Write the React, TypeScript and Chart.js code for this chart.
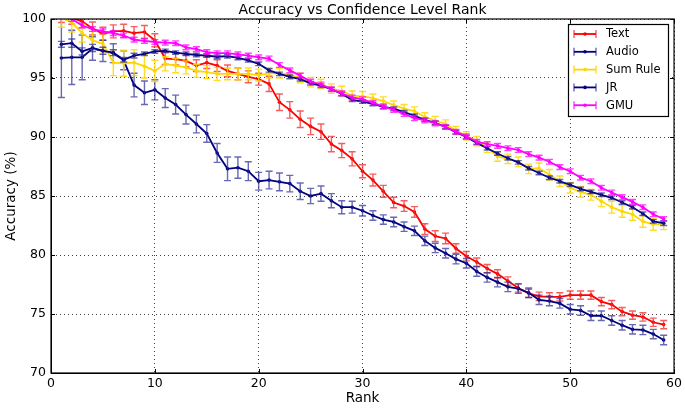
import React, { useEffect, useRef } from "react";
import { Chart, registerables } from "chart.js";

Chart.register(...registerables);

const TITLE = "Accuracy vs Confidence Level Rank";
const X_LABEL = "Rank";
const Y_LABEL = "Accuracy (%)";

const RANKS = [
  1, 2, 3, 4, 5, 6, 7, 8, 9, 10, 11, 12, 13, 14, 15, 16, 17, 18, 19, 20,
  21, 22, 23, 24, 25, 26, 27, 28, 29, 30, 31, 32, 33, 34, 35, 36, 37, 38, 39, 40,
  41, 42, 43, 44, 45, 46, 47, 48, 49, 50, 51, 52, 53, 54, 55, 56, 57, 58, 59,
];

const TEXT = [
  100.3, 100.1, 99.8, 99.2, 98.75, 98.95, 99.0, 98.8, 98.9, 98.2,
  96.65, 96.6, 96.45, 96.05, 96.3, 96.05, 95.6, 95.35, 95.1, 94.9,
  94.5, 92.95, 92.3, 91.5, 90.9, 90.45, 89.4, 88.85, 88.15, 87.1,
  86.35, 85.4, 84.45, 84.15, 83.65, 82.2, 81.6, 81.4, 80.55, 79.9,
  79.4, 78.85, 78.4, 77.8, 77.2, 76.75, 76.5, 76.45, 76.45, 76.6,
  76.6, 76.6, 76.05, 75.8, 75.2, 74.9, 74.75, 74.3, 74.1,
];
const TEXT_ERR = [
  0.6, 0.55, 0.55, 0.55, 0.55, 0.55, 0.55, 0.55, 0.55, 0.55,
  0.5, 0.5, 0.5, 0.5, 0.5, 0.5, 0.5, 0.5, 0.5, 0.5,
  0.65, 0.7, 0.7, 0.7, 0.7, 0.65, 0.65, 0.6, 0.6, 0.55,
  0.5, 0.5, 0.45, 0.45, 0.45, 0.45, 0.45, 0.45, 0.4, 0.4,
  0.35, 0.35, 0.35, 0.35, 0.35, 0.35, 0.35, 0.35, 0.35, 0.35,
  0.35, 0.35, 0.35, 0.35, 0.35, 0.35, 0.35, 0.35, 0.35,
];

const AUDIO = [
  96.7, 96.75, 96.75, 97.5, 97.3, 97.1, 96.5, 94.4, 93.75, 94.0,
  93.3, 92.75, 91.9, 91.1, 90.3, 88.65, 87.3, 87.4, 87.1, 86.25,
  86.35, 86.2, 86.05, 85.4, 85.0, 85.2, 84.6, 84.05, 84.05, 83.75,
  83.35, 83.0, 82.8, 82.4, 82.05, 81.2, 80.6, 80.15, 79.65, 79.3,
  78.6, 78.1, 77.7, 77.3, 77.15, 76.8, 76.2, 76.1, 75.9, 75.4,
  75.3, 74.85, 74.85, 74.45, 74.05, 73.7, 73.65, 73.3, 72.8,
];
const AUDIO_ERR = [
  3.35, 2.3, 1.9, 1.0, 0.9, 0.8, 0.8, 1.0, 1.0, 0.85,
  0.8, 0.8, 0.8, 0.75, 0.75, 0.8, 1.0, 0.9, 0.8, 0.75,
  0.75, 0.75, 0.7, 0.7, 0.65, 0.65, 0.6, 0.55, 0.5, 0.45,
  0.4, 0.4, 0.4, 0.4, 0.4, 0.4, 0.4, 0.4, 0.4, 0.4,
  0.4, 0.4, 0.4, 0.4, 0.4, 0.4, 0.4, 0.4, 0.4, 0.4,
  0.4, 0.4, 0.4, 0.4, 0.4, 0.4, 0.4, 0.4, 0.4,
];

const SUM_RULE = [
  100.1, 99.7, 98.8, 98.2, 97.9, 96.3, 96.25, 96.3, 96.0, 95.6,
  96.2, 96.05, 95.9, 95.6, 95.5, 95.35, 95.35, 95.35, 95.35, 95.25,
  95.4, 95.4, 95.3, 95.0, 94.65, 94.5, 94.1, 93.9, 93.5, 93.45,
  93.3, 93.05, 92.7, 92.4, 92.2, 91.7, 91.4, 91.1, 90.55, 90.1,
  89.65, 89.1, 88.35, 88.15, 87.9, 87.3, 87.35, 86.8, 86.25, 85.7,
  85.35, 85.1, 84.55, 84.05, 83.7, 83.45, 82.85, 82.6, 82.65,
];
const SUM_RULE_ERR = [
  0.8, 0.8, 0.75, 0.75, 0.8, 1.1, 1.1, 1.1, 1.0, 0.9,
  0.6, 0.6, 0.55, 0.55, 0.55, 0.55, 0.5, 0.5, 0.5, 0.5,
  0.4, 0.4, 0.4, 0.4, 0.4, 0.4, 0.4, 0.4, 0.4, 0.4,
  0.35, 0.35, 0.35, 0.35, 0.35, 0.35, 0.35, 0.35, 0.35, 0.35,
  0.4, 0.4, 0.4, 0.4, 0.4, 0.4, 0.45, 0.45, 0.45, 0.45,
  0.45, 0.45, 0.45, 0.5, 0.5, 0.5, 0.5, 0.5, 0.5,
];

const JR = [
  97.85, 97.95, 97.25, 97.55, 97.3, 97.15, 96.55, 96.9, 97.05, 97.25,
  97.3, 97.15, 97.05, 96.95, 96.9, 96.8, 96.85, 96.7, 96.5, 96.2,
  95.65, 95.35, 95.1, 94.9, 94.55, 94.35, 94.05, 93.65, 93.15, 93.0,
  92.8, 92.55, 92.4, 92.1, 91.8, 91.45, 91.2, 90.85, 90.4, 90.0,
  89.5, 89.05, 88.6, 88.2, 87.85, 87.35, 86.95, 86.55, 86.25, 85.95,
  85.6, 85.35, 85.1, 84.85, 84.45, 84.05, 83.5, 82.85, 82.7,
];
const JR_ERR = [
  0.25, 0.35, 0.3, 0.3, 0.3, 0.25, 0.2, 0.2, 0.15, 0.15,
  0.15, 0.15, 0.15, 0.15, 0.15, 0.15, 0.15, 0.15, 0.15, 0.15,
  0.15, 0.15, 0.15, 0.15, 0.15, 0.15, 0.15, 0.15, 0.15, 0.15,
  0.15, 0.15, 0.15, 0.15, 0.15, 0.15, 0.15, 0.15, 0.15, 0.15,
  0.15, 0.15, 0.15, 0.15, 0.15, 0.15, 0.15, 0.15, 0.15, 0.15,
  0.15, 0.15, 0.15, 0.15, 0.15, 0.15, 0.15, 0.15, 0.2,
];

const GMU = [
  100.5, 100.0, 99.45, 99.15, 98.95, 98.8, 98.6, 98.25, 98.15, 98.05,
  98.0, 97.95, 97.6, 97.45, 97.2, 97.1, 97.1, 97.0, 96.9, 96.75,
  96.65, 96.1, 95.65, 95.2, 94.7, 94.45, 94.05, 93.7, 93.35, 93.2,
  92.9, 92.6, 92.3, 91.95, 91.6, 91.4, 91.15, 90.85, 90.45, 90.05,
  89.6, 89.4, 89.25, 89.05, 88.9, 88.55, 88.25, 87.9, 87.45, 87.1,
  86.55, 86.25, 85.7, 85.3, 84.9, 84.5, 84.05, 83.45, 83.05,
];
const GMU_ERR = [
  0.2, 0.2, 0.2, 0.2, 0.2, 0.2, 0.2, 0.2, 0.2, 0.2,
  0.2, 0.2, 0.2, 0.2, 0.2, 0.2, 0.2, 0.2, 0.2, 0.2,
  0.2, 0.2, 0.2, 0.2, 0.2, 0.2, 0.2, 0.2, 0.2, 0.2,
  0.2, 0.2, 0.2, 0.2, 0.2, 0.2, 0.2, 0.2, 0.2, 0.2,
  0.2, 0.2, 0.2, 0.2, 0.2, 0.2, 0.2, 0.2, 0.2, 0.2,
  0.2, 0.2, 0.2, 0.2, 0.2, 0.2, 0.2, 0.2, 0.2,
];

const SERIES_NAMES = ["Text", "Audio", "Sum Rule", "JR", "GMU"];
const SERIES_VALUES = [TEXT, AUDIO, SUM_RULE, JR, GMU];
const SERIES_ERRORS = [TEXT_ERR, AUDIO_ERR, SUM_RULE_ERR, JR_ERR, GMU_ERR];
const SERIES_COLORS = ["#ff0000", "#000080", "#ffd700", "#000080", "#ff00ff"];
const ERR_COLORS = ["rgba(240,40,40,0.75)", "rgba(40,40,150,0.7)", "rgba(255,215,0,0.85)", "rgba(40,40,150,0.7)", "rgba(255,0,255,0.75)"];

const FONT = "'DejaVu Sans', sans-serif";

const errorBarPlugin = {
  id: "errorBars",
  afterDatasetDraw(chart: any, args: any) {
    const i = args.index;
    const ds = chart.data.datasets[i];
    const errs: number[] = ds.errors;
    if (!errs) return;
    const { ctx, chartArea } = chart;
    const xs = chart.scales.x;
    const ys = chart.scales.y;
    ctx.save();
    ctx.beginPath();
    ctx.rect(chartArea.left, chartArea.top, chartArea.right - chartArea.left, chartArea.bottom - chartArea.top);
    ctx.clip();
    ctx.strokeStyle = ds.errColor;
    ctx.lineWidth = 1.4;
    const cap = 3.5;
    ds.data.forEach((p: any, k: number) => {
      const x = xs.getPixelForValue(p.x);
      const y1 = ys.getPixelForValue(p.y + errs[k]);
      const y2 = ys.getPixelForValue(p.y - errs[k]);
      ctx.beginPath();
      ctx.moveTo(x, y1);
      ctx.lineTo(x, y2);
      ctx.moveTo(x - cap, y1);
      ctx.lineTo(x + cap, y1);
      ctx.moveTo(x - cap, y2);
      ctx.lineTo(x + cap, y2);
      ctx.stroke();
    });
    ctx.restore();
  },
};

const framePlugin = {
  id: "frameAndLegend",
  afterDraw(chart: any) {
    const { ctx, chartArea } = chart;
    const { left, right, top, bottom } = chartArea;
    const xs = chart.scales.x;
    const ys = chart.scales.y;
    ctx.save();
    ctx.strokeStyle = "#000";
    ctx.lineWidth = 1;
    const tl = 4;
    xs.ticks.forEach((t: any) => {
      const x = Math.round(xs.getPixelForValue(t.value)) + 0.5;
      ctx.beginPath();
      ctx.moveTo(x, bottom);
      ctx.lineTo(x, bottom - tl);
      ctx.moveTo(x, top);
      ctx.lineTo(x, top + tl);
      ctx.stroke();
    });
    ys.ticks.forEach((t: any) => {
      const y = Math.round(ys.getPixelForValue(t.value)) + 0.5;
      ctx.beginPath();
      ctx.moveTo(left, y);
      ctx.lineTo(left + tl, y);
      ctx.moveTo(right, y);
      ctx.lineTo(right - tl, y);
      ctx.stroke();
    });
    ctx.lineWidth = 1.2;
    ctx.strokeRect(left, top, right - left, bottom - top);

    ctx.fillStyle = "#000";
    ctx.font = `14px ${FONT}`;
    ctx.textAlign = "center";
    ctx.textBaseline = "bottom";
    ctx.fillText(TITLE, (left + right) / 2, top - 2);

    const bx = 568.5, by = 24.5, bw = 100, bh = 92;
    ctx.fillStyle = "#fff";
    ctx.fillRect(bx, by, bw, bh);
    ctx.strokeStyle = "#000";
    ctx.lineWidth = 1.2;
    ctx.strokeRect(bx, by, bw, bh);
    ctx.font = `11.5px ${FONT}`;
    ctx.textAlign = "left";
    ctx.textBaseline = "middle";
    SERIES_NAMES.forEach((name, k) => {
      const y = 34 + k * 17.8;
      const x1 = 574, x2 = 596;
      ctx.strokeStyle = ERR_COLORS[k];
      ctx.lineWidth = 1.4;
      ctx.beginPath();
      ctx.moveTo(x1, y - 4);
      ctx.lineTo(x1, y + 4);
      ctx.moveTo(x2, y - 4);
      ctx.lineTo(x2, y + 4);
      ctx.stroke();
      ctx.strokeStyle = SERIES_COLORS[k];
      ctx.lineWidth = 1.8;
      ctx.beginPath();
      ctx.moveTo(x1, y);
      ctx.lineTo(x2, y);
      ctx.stroke();
      ctx.fillStyle = SERIES_COLORS[k];
      ctx.beginPath();
      ctx.arc((x1 + x2) / 2, y, 1.8, 0, Math.PI * 2);
      ctx.fill();
      ctx.fillStyle = "#000";
      ctx.fillText(name, 606, y + 0.5);
    });
    ctx.restore();
  },
};

export default function App() {
  const ref = useRef<HTMLCanvasElement | null>(null);

  useEffect(() => {
    document.body.style.margin = "0";
    const canvas = ref.current;
    if (!canvas) return;
    const orders = [5, 4, 3, 2, 1];
    const datasets = SERIES_NAMES.map((name, k) => ({
      label: name,
      data: RANKS.map((r, i) => ({ x: r, y: SERIES_VALUES[k][i] })),
      errors: SERIES_ERRORS[k],
      errColor: ERR_COLORS[k],
      borderColor: SERIES_COLORS[k],
      backgroundColor: SERIES_COLORS[k],
      borderWidth: 1.8,
      pointRadius: 1.8,
      pointBorderWidth: 0,
      pointHoverRadius: 0,
      tension: 0,
      fill: false,
      order: orders[k],
    }));

    const chart = new Chart(canvas, {
      type: "line",
      data: { datasets } as any,
      options: {
        responsive: false,
        animation: false,
        events: [],
        layout: { padding: { top: 19, right: 8, left: 0, bottom: 0 } },
        plugins: {
          legend: { display: false },
          title: { display: false },
          tooltip: { enabled: false },
        },
        scales: {
          x: {
            type: "linear",
            min: 0,
            max: 60,
            ticks: {
              stepSize: 10,
              color: "#000",
              font: { family: FONT, size: 12.5 },
              padding: 3,
              maxRotation: 0,
            },
            grid: { color: "rgba(0,0,0,0.75)", lineWidth: 1, drawTicks: false },
            border: { display: true, color: "#000", dash: [1, 3] },
            title: {
              display: true,
              text: X_LABEL,
              color: "#000",
              font: { family: FONT, size: 13.5 },
              padding: { top: 0, bottom: 2 },
            },
            afterFit: (s: any) => {
              s.height = 36;
            },
          },
          y: {
            type: "linear",
            min: 70,
            max: 100,
            ticks: {
              stepSize: 5,
              color: "#000",
              font: { family: FONT, size: 12.5 },
              padding: 5,
            },
            grid: { color: "rgba(0,0,0,0.75)", lineWidth: 1, drawTicks: false },
            border: { display: true, color: "#000", dash: [1, 3] },
            title: {
              display: true,
              text: Y_LABEL,
              color: "#000",
              font: { family: FONT, size: 13.5 },
              padding: { top: 3, bottom: 0 },
            },
            afterFit: (s: any) => {
              s.width = 51;
            },
          },
        },
      },
      plugins: [errorBarPlugin, framePlugin],
    } as any);
    return () => chart.destroy();
  }, []);

  return (
    <canvas
      ref={ref}
      width={685}
      height={409}
      style={{ display: "block", width: 685, height: 409 }}
    />
  );
}
